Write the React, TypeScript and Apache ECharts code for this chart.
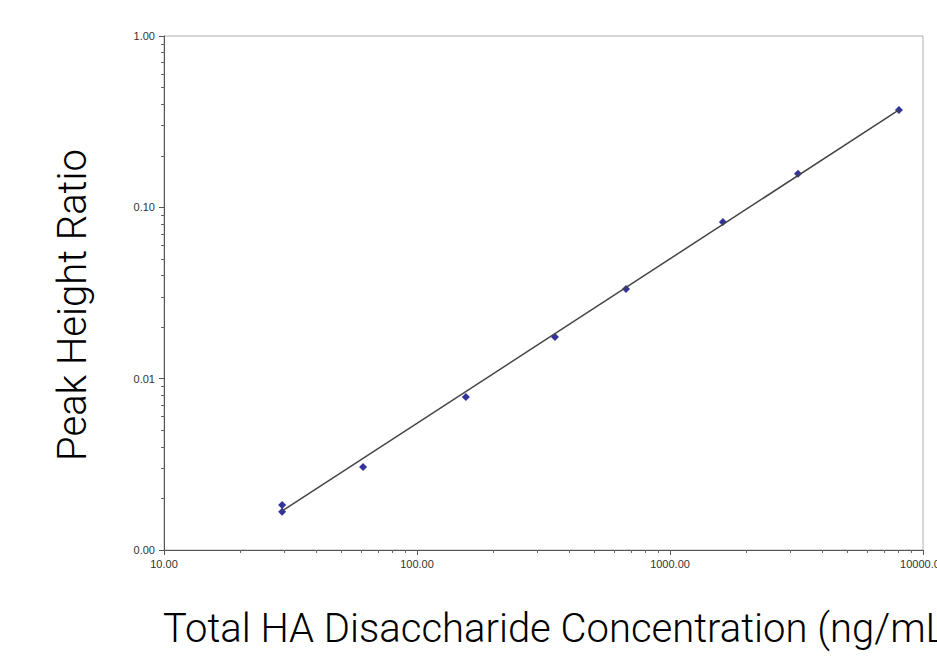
import React, { useEffect, useRef } from "react";
import * as echarts from "echarts";

// Calibration data (log-log)
const concentrations = [29.3, 29.3, 61.2, 156, 351, 670, 1618, 3206, 8035];
const peakRatios = [0.00183, 0.00167, 0.00305, 0.00782, 0.0175, 0.0334, 0.0822, 0.157, 0.37];
// Regression line end points
const fitX = [29.3, 8035];
const fitY = [0.00169, 0.37];
// Axis ranges (log10 decades)
const xDecades = [1, 2, 3, 4];
const yDecades = [-3, -2, -1, 0];
const minorSteps = [2, 3, 4, 5, 6, 7, 8, 9];

const xTitle = "Total HA Disaccharide Concentration (ng/mL)";
const yTitle = "Peak Height Ratio";

function minorLogTicks(decades: number[]) {
  const out: number[] = [];
  for (let i = 0; i < decades.length - 1; i++) {
    for (const k of minorSteps) out.push(decades[i] + Math.log10(k));
  }
  return out;
}

export default function App() {
  const ref = useRef<HTMLDivElement>(null);
  useEffect(() => {
    if (!ref.current) return;
    const chart = echarts.init(ref.current, undefined, { renderer: "svg" });
    const labelStyle = {
      fontFamily: "Liberation Sans, Arial, sans-serif",
      fontSize: 11,
      color: "#333",
    };
    chart.setOption({
      animation: false,
      grid: {
        left: 164,
        top: 36,
        right: 14,
        bottom: 108,
        show: true,
        borderColor: "#b0b0b0",
        borderWidth: 1,
        backgroundColor: "transparent",
        containLabel: false,
        outerBoundsMode: "none",
      },
      xAxis: [
        {
          type: "log",
          logBase: 10,
          min: Math.pow(10, xDecades[0]),
          max: Math.pow(10, xDecades[xDecades.length - 1]),
          axisLine: { show: true, onZero: false, lineStyle: { color: "#555", width: 1 } },
          axisTick: { show: true, length: 5, lineStyle: { color: "#555" } },
          axisLabel: { ...labelStyle, margin: 8, formatter: (v: number) => v.toFixed(2) },
          splitLine: { show: false },
          minorTick: { show: false },
        },
        {
          type: "value",
          min: xDecades[0],
          max: xDecades[xDecades.length - 1],
          position: "bottom",
          axisLine: { show: false, onZero: false },
          axisLabel: { show: false },
          splitLine: { show: false },
          axisTick: {
            show: true,
            length: 3,
            customValues: minorLogTicks(xDecades),
            lineStyle: { color: "#666" },
          },
        },
      ],
      yAxis: [
        {
          type: "log",
          logBase: 10,
          min: Math.pow(10, yDecades[0]),
          max: Math.pow(10, yDecades[yDecades.length - 1]),
          axisLine: { show: true, onZero: false, lineStyle: { color: "#555", width: 1 } },
          axisTick: { show: true, length: 5, lineStyle: { color: "#555" } },
          axisLabel: { ...labelStyle, margin: 9, formatter: (v: number) => v.toFixed(2) },
          splitLine: { show: false },
          minorTick: { show: false },
        },
        {
          type: "value",
          min: yDecades[0],
          max: yDecades[yDecades.length - 1],
          position: "left",
          axisLine: { show: false, onZero: false },
          axisLabel: { show: false },
          splitLine: { show: false },
          axisTick: {
            show: true,
            length: 3,
            customValues: minorLogTicks(yDecades),
            lineStyle: { color: "#666" },
          },
        },
      ],
      series: [
        {
          type: "line",
          xAxisIndex: 0,
          yAxisIndex: 0,
          data: fitX.map((x, i) => [x, fitY[i]]),
          symbol: "none",
          lineStyle: { color: "#454545", width: 1.5 },
          silent: true,
        },
        {
          type: "scatter",
          xAxisIndex: 0,
          yAxisIndex: 0,
          data: concentrations.map((x, i) => [x, peakRatios[i]]),
          symbol: "diamond",
          symbolSize: 8,
          itemStyle: { color: "#000080" },
        },
      ],
      graphic: [
        {
          type: "text",
          left: 163,
          top: 608,
          style: {
            text: xTitle,
            fontFamily: "Roboto, sans-serif",
            fontWeight: 300,
            fontSize: 40,
            fill: "#000",
          },
        },
        {
          type: "text",
          x: 72,
          y: 305,
          rotation: Math.PI / 2,
          style: {
            text: yTitle,
            fontFamily: "Roboto, sans-serif",
            fontWeight: 300,
            fontSize: 40,
            fill: "#000",
            align: "center",
            verticalAlign: "middle",
          },
        },
      ],
    });
    return () => chart.dispose();
  }, []);
  return (
    <div
      ref={ref}
      style={{ position: "fixed", left: 0, top: 0, width: 937, height: 658, background: "#fff" }}
    />
  );
}
